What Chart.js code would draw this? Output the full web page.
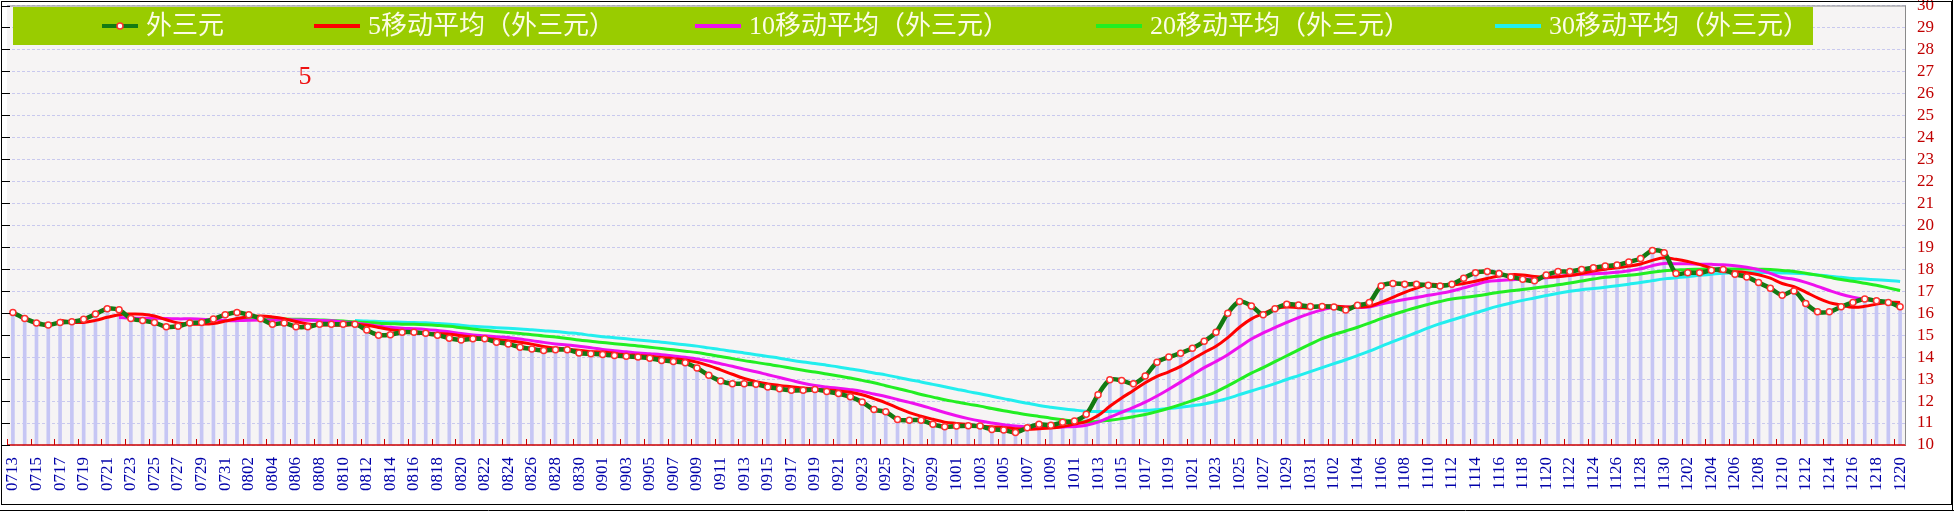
<!DOCTYPE html>
<html lang="zh">
<head>
<meta charset="UTF-8">
<title>外三元 移动平均</title>
<script src="https://cdn.jsdelivr.net/npm/chart.js"></script>
<style>
  html, body { margin: 0; padding: 0; background: #fff; }
  #wrap { width: 1954px; height: 513px; }
</style>
</head>
<body>
<div id="wrap"><canvas id="chart" width="1954" height="513"></canvas></div>
<script>
// categories: one per day, 0713 .. 1220
const dates = [
  '0713','0714','0715','0716','0717','0718','0719','0720','0721','0722','0723','0724','0725','0726','0727','0728','0729','0730','0731',
  '0801','0802','0803','0804','0805','0806','0807','0808','0809','0810','0811','0812','0813','0814','0815','0816','0817','0818','0819','0820','0821','0822','0823','0824','0825','0826','0827','0828','0829','0830','0831',
  '0901','0902','0903','0904','0905','0906','0907','0908','0909','0910','0911','0912','0913','0914','0915','0916','0917','0918','0919','0920','0921','0922','0923','0924','0925','0926','0927','0928','0929','0930',
  '1001','1002','1003','1004','1005','1006','1007','1008','1009','1010','1011','1012','1013','1014','1015','1016','1017','1018','1019','1020','1021','1022','1023','1024','1025','1026','1027','1028','1029','1030','1031',
  '1101','1102','1103','1104','1105','1106','1107','1108','1109','1110','1111','1112','1113','1114','1115','1116','1117','1118','1119','1120','1121','1122','1123','1124','1125','1126','1127','1128','1129','1130',
  '1201','1202','1203','1204','1205','1206','1207','1208','1209','1210','1211','1212','1213','1214','1215','1216','1217','1218','1219','1220'
];

// 外三元
const waiSanYuan = [
  16.03,15.76,15.55,15.46,15.58,15.61,15.72,15.96,16.20,16.15,15.76,15.66,15.57,15.38,15.40,15.55,15.58,15.73,15.93,
  16.03,15.93,15.75,15.50,15.55,15.38,15.38,15.50,15.50,15.50,15.50,15.23,15.00,15.02,15.13,15.13,15.08,15.00,14.86,14.78,14.83,14.83,14.68,14.60,14.45,14.37,14.30,14.34,14.34,14.19,14.15,
  14.12,14.07,14.04,14.00,13.95,13.85,13.80,13.74,13.50,13.17,12.91,12.79,12.79,12.76,12.64,12.56,12.49,12.49,12.52,12.44,12.34,12.19,11.96,11.61,11.51,11.16,11.13,11.13,10.94,10.83,
  10.86,10.88,10.86,10.71,10.68,10.57,10.78,10.94,10.90,11.03,11.09,11.40,12.29,12.97,12.94,12.79,13.14,13.77,14.00,14.18,14.40,14.72,15.13,16.00,16.53,16.33,15.93,16.20,16.41,16.37,16.30,
  16.30,16.28,16.14,16.36,16.49,17.24,17.35,17.32,17.32,17.27,17.24,17.32,17.59,17.84,17.89,17.80,17.65,17.54,17.47,17.74,17.89,17.89,17.99,18.07,18.14,18.19,18.33,18.49,18.85,18.75,
  17.81,17.84,17.84,17.95,17.99,17.77,17.65,17.39,17.13,16.82,17.01,16.44,16.06,16.06,16.29,16.49,16.64,16.56,16.49,16.29
];

// 5移动平均（外三元）
const ma5 = [
  null,null,null,null,
  15.68,15.59,15.58,15.67,15.81,15.93,15.96,15.95,15.87,15.70,15.55,15.51,15.50,15.53,15.64,15.76,15.84,15.87,15.83,15.75,
  15.62,15.51,15.46,15.46,15.45,15.48,15.45,15.35,15.25,15.18,15.10,15.07,15.07,15.04,14.97,14.91,14.86,14.80,14.74,14.68,
  14.59,14.48,14.41,14.36,14.31,14.26,14.23,14.17,14.11,14.08,14.04,13.98,13.93,13.87,13.77,13.61,13.42,13.22,13.03,12.88,
  12.78,12.71,12.65,12.59,12.54,12.50,12.46,12.40,12.29,12.11,11.92,11.69,11.47,11.31,11.17,11.04,10.98,10.93,10.87,10.83,
  10.80,10.74,10.72,10.74,10.77,10.84,10.95,11.07,11.34,11.76,12.14,12.48,12.83,13.12,13.33,13.58,13.90,14.21,14.49,14.89,
  15.36,15.74,15.98,16.20,16.28,16.25,16.24,16.32,16.33,16.28,16.28,16.31,16.50,16.72,16.95,17.14,17.30,17.30,17.29,17.35,
  17.45,17.58,17.69,17.75,17.74,17.67,17.64,17.66,17.71,17.80,17.92,18.00,18.06,18.14,18.24,18.40,18.52,18.45,18.35,18.22,
  18.04,17.89,17.88,17.84,17.75,17.59,17.35,17.20,16.96,16.69,16.48,16.37,16.27,16.31,16.41,16.49,16.49
];

// 10移动平均（外三元）
const ma10 = [
  null,null,null,null,null,null,null,null,null,
  15.80,15.78,15.77,15.77,15.76,15.74,15.74,15.72,15.70,15.67,
  15.66,15.68,15.69,15.68,15.70,15.69,15.68,15.67,15.65,15.60,
  15.55,15.48,15.40,15.36,15.31,15.29,15.26,15.21,15.15,15.07,
  15.01,14.97,14.93,14.89,14.82,14.75,14.67,14.60,14.55,14.49,
  14.43,14.35,14.29,14.24,14.19,14.15,14.11,14.05,13.99,13.92,
  13.82,13.70,13.58,13.45,13.33,13.20,13.07,12.94,12.81,12.71,
  12.64,12.58,12.52,12.44,12.32,12.21,12.07,11.94,11.80,11.64,
  11.48,11.33,11.20,11.09,11.00,10.92,10.86,10.82,10.81,10.80,
  10.82,10.84,10.90,11.04,11.27,11.49,11.71,11.95,12.23,12.54,
  12.86,13.19,13.52,13.80,14.11,14.47,14.82,15.10,15.34,15.58,
  15.80,15.99,16.15,16.27,16.28,16.26,16.28,16.41,16.52,16.62,
  16.71,16.81,16.90,17.01,17.15,17.30,17.44,17.49,17.52,17.55,
  17.56,17.61,17.67,17.73,17.77,17.79,17.82,17.86,17.93,18.02,
  18.16,18.26,18.25,18.25,18.23,18.22,18.20,18.16,18.09,17.98,
  17.81,17.62,17.54,17.40,17.22,17.03,16.86,16.73,16.63,16.55,
  16.49,16.43
];

// 20移动平均（外三元）
const ma20 = [
  null,null,null,null,null,null,null,null,null,null,null,null,null,null,null,null,null,null,null,
  15.73,15.73,15.73,15.72,15.73,15.72,15.71,15.69,15.67,15.64,
  15.60,15.58,15.54,15.52,15.50,15.49,15.47,15.44,15.40,15.34,
  15.28,15.22,15.17,15.12,15.07,15.02,14.96,14.91,14.85,14.78,
  14.72,14.66,14.61,14.56,14.51,14.45,14.39,14.33,14.27,14.21,
  14.12,14.03,13.93,13.84,13.76,13.67,13.59,13.49,13.40,13.32,
  13.23,13.14,13.05,12.94,12.83,12.70,12.57,12.44,12.30,12.18,
  12.06,11.96,11.86,11.77,11.66,11.56,11.47,11.38,11.30,11.22,
  11.15,11.09,11.05,11.07,11.13,11.20,11.29,11.39,11.52,11.67,
  11.84,12.02,12.21,12.42,12.69,12.98,13.27,13.52,13.79,14.06,
  14.33,14.59,14.84,15.03,15.19,15.36,15.55,15.75,15.93,16.10,
  16.26,16.40,16.53,16.64,16.71,16.78,16.86,16.95,17.02,17.08,
  17.14,17.21,17.29,17.37,17.46,17.55,17.63,17.68,17.72,17.78,
  17.86,17.93,17.96,17.99,18.00,18.01,18.01,18.01,18.01,18.00,
  17.99,17.94,17.90,17.82,17.73,17.63,17.53,17.45,17.36,17.27,
  17.15,17.03
];

// 30移动平均（外三元）
const ma30 = [
  null,null,null,null,null,null,null,null,null,null,null,null,null,null,null,null,null,null,null,null,
  null,null,null,null,null,null,null,null,null,
  15.67,15.64,15.62,15.60,15.59,15.57,15.56,15.53,15.50,15.45,
  15.40,15.37,15.34,15.31,15.28,15.24,15.20,15.16,15.11,15.06,
  14.99,14.93,14.88,14.83,14.78,14.73,14.68,14.62,14.56,14.50,
  14.42,14.34,14.27,14.19,14.11,14.03,13.95,13.86,13.78,13.71,
  13.63,13.55,13.46,13.38,13.28,13.19,13.08,12.97,12.87,12.76,
  12.65,12.54,12.43,12.33,12.22,12.11,12.00,11.90,11.80,11.72,
  11.65,11.59,11.54,11.52,11.53,11.54,11.55,11.57,11.61,11.66,
  11.72,11.79,11.87,11.98,12.12,12.29,12.46,12.62,12.79,12.98,
  13.16,13.34,13.52,13.70,13.88,14.07,14.27,14.49,14.70,14.91,
  15.12,15.33,15.52,15.69,15.85,16.01,16.18,16.33,16.46,16.58,
  16.69,16.80,16.91,17.00,17.07,17.12,17.18,17.25,17.32,17.39,
  17.48,17.56,17.61,17.66,17.72,17.77,17.82,17.84,17.85,17.85,
  17.84,17.83,17.82,17.79,17.74,17.68,17.63,17.58,17.55,17.52,
  17.49,17.44
];

const yMin = 10;
const yMax = 30;
const markText = '5';

const serif = 'Liberation Serif';
const legendFont = "26px 'Liberation Serif', 'Noto Sans CJK SC'";
const legendStarts = [102, 314, 695, 1096, 1495];

// background, axis line, borders, legend bar
const decor = {
  id: 'decor',
  beforeDraw(chart) {
    const { ctx, chartArea: a } = chart;
    ctx.save();
    ctx.fillStyle = '#ffffff';
    ctx.fillRect(0, 0, chart.width, chart.height);
    ctx.fillStyle = '#f6f4f4';
    ctx.fillRect(a.left, a.top, a.right - a.left, a.bottom - a.top);
    ctx.restore();
  },
  afterDatasetsDraw(chart) {
    const { ctx, chartArea: a } = chart;
    const x = chart.scales.x, y = chart.scales.y;
    ctx.save();
    // red bottom axis + small ticks between every second day
    ctx.strokeStyle = '#cc0000';
    ctx.lineWidth = 1.5;
    ctx.beginPath();
    ctx.moveTo(a.left, a.bottom);
    ctx.lineTo(a.right, a.bottom);
    ctx.stroke();
    ctx.lineWidth = 1;
    const half = (a.right - a.left) / dates.length / 2;
    for (let i = 0; i < dates.length; i += 2) {
      const px = Math.round(x.getPixelForValue(i) - half) + 0.5;
      ctx.beginPath();
      ctx.moveTo(px, a.bottom);
      ctx.lineTo(px, a.bottom - 6);
      ctx.stroke();
    }
    // grey plot border on the right and top
    ctx.strokeStyle = '#8a8a8a';
    ctx.beginPath();
    ctx.moveTo(a.right - 0.5, a.top);
    ctx.lineTo(a.right - 0.5, a.bottom);
    ctx.moveTo(a.left, a.top + 0.5);
    ctx.lineTo(a.right, a.top + 0.5);
    ctx.stroke();
    // black ticks on the left side
    ctx.strokeStyle = '#000';
    for (let v = yMin; v <= yMax; v++) {
      const py = Math.round(y.getPixelForValue(v)) + 0.5;
      ctx.beginPath();
      ctx.moveTo(2, py);
      ctx.lineTo(10, py);
      ctx.stroke();
    }
    ctx.restore();
  },
  afterDraw(chart) {
    const ctx = chart.ctx;
    ctx.save();
    // legend bar
    ctx.fillStyle = '#99cc00';
    ctx.fillRect(13, 7, 1800, 38);
    ctx.font = legendFont;
    ctx.textBaseline = 'middle';
    ctx.textAlign = 'left';
    const cy = 26;
    let n = 0;
    chart.data.datasets.forEach(ds => {
      if (ds.type === 'bar') return;
      const lx = legendStarts[n++];
      const len = ds.pointRadius ? 36 : 46;
      ctx.strokeStyle = ds.borderColor;
      ctx.lineWidth = 4;
      ctx.beginPath();
      ctx.moveTo(lx, cy);
      ctx.lineTo(lx + len, cy);
      ctx.stroke();
      if (ds.pointRadius) {
        ctx.beginPath();
        ctx.arc(lx + len / 2, cy, 3, 0, Math.PI * 2);
        ctx.fillStyle = '#ffffff';
        ctx.fill();
        ctx.lineWidth = 1.5;
        ctx.strokeStyle = ds.pointBorderColor;
        ctx.stroke();
      }
      ctx.fillStyle = '#fcfce6';
      ctx.fillText(ds.label, lx + len + 8, cy + 1);
    });
    // red mark
    ctx.fillStyle = '#ee1111';
    ctx.font = "26px 'Liberation Serif'";
    ctx.textAlign = 'center';
    ctx.fillText(markText, 305, 77);
    // outer frame
    ctx.strokeStyle = '#000';
    ctx.lineWidth = 1;
    ctx.strokeRect(1.5, 1.5, 1950, 503);
    ctx.beginPath();
    ctx.moveTo(0, 510.5);
    ctx.lineTo(1954, 510.5);
    ctx.moveTo(1952.5, 0);
    ctx.lineTo(1952.5, 511);
    ctx.stroke();
    ctx.restore();
  }
};

new Chart(document.getElementById('chart').getContext('2d'), {
  type: 'line',
  data: {
    labels: dates,
    datasets: [
      {
        label: '外三元', data: waiSanYuan, borderColor: '#137a13', borderWidth: 4.5,
        pointRadius: 3, pointBorderWidth: 1.5, pointBackgroundColor: '#ffffff', pointBorderColor: '#ff3030',
        tension: 0.3, order: 0
      },
      { label: '5移动平均（外三元）', data: ma5, borderColor: '#ff0000', borderWidth: 3, pointRadius: 0, tension: 0.4, order: 1 },
      { label: '10移动平均（外三元）', data: ma10, borderColor: '#ee11ee', borderWidth: 3, pointRadius: 0, tension: 0.4, order: 2 },
      { label: '20移动平均（外三元）', data: ma20, borderColor: '#22ee22', borderWidth: 3, pointRadius: 0, tension: 0.4, order: 3 },
      { label: '30移动平均（外三元）', data: ma30, borderColor: '#22eeee', borderWidth: 3, pointRadius: 0, tension: 0.4, order: 4 },
      { type: 'bar', label: 'bar', data: waiSanYuan, backgroundColor: '#c6c6f4', barThickness: 3, order: 9 }
    ]
  },
  options: {
    responsive: false,
    animation: false,
    events: [],
    layout: { padding: { left: 7, top: 3, right: 0, bottom: 0 } },
    plugins: { legend: { display: false }, tooltip: { enabled: false } },
    scales: {
      x: {
        offset: true,
        grid: { display: false, drawTicks: false },
        border: { display: false },
        ticks: {
          autoSkip: false, minRotation: 90, maxRotation: 90, padding: 12,
          color: '#0000aa', font: { family: serif, size: 17 },
          callback(value, index) { return index % 2 === 0 ? dates[index] : ''; }
        },
        afterFit(s) { s.height = 68; s.paddingLeft = 0; s.paddingRight = 0; }
      },
      y: {
        position: 'right',
        min: yMin, max: yMax,
        grid: { color: '#c9c9ee', lineWidth: 1, drawTicks: false },
        border: { display: false, dash: [3, 2] },
        ticks: { stepSize: 1, autoSkip: false, padding: 11, color: '#c00000', font: { family: serif, size: 17 } },
        afterFit(s) { s.width = 48; s.paddingTop = 0; s.paddingBottom = 0; }
      }
    }
  },
  plugins: [decor]
});
</script>
</body>
</html>
